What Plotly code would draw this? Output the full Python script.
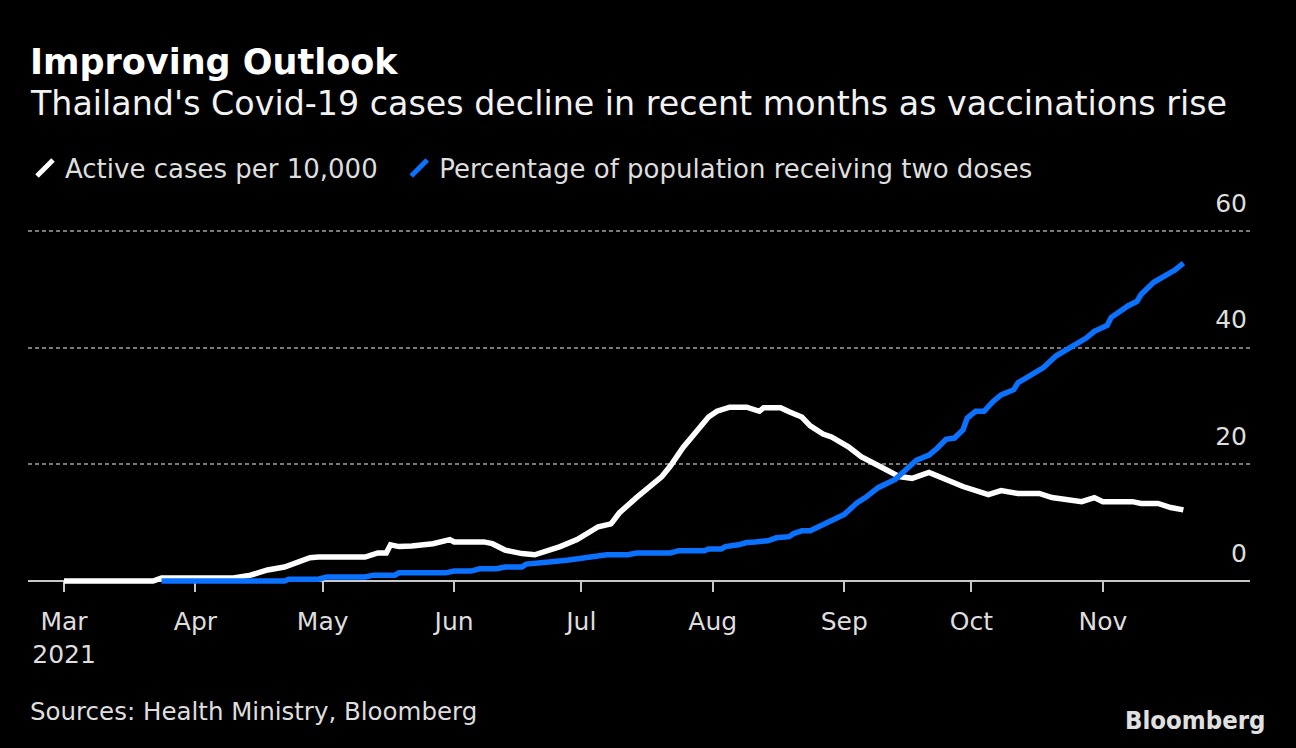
import plotly.graph_objects as go

# ---- data ----
active_dates = ["2021-03-01", "2021-03-22", "2021-03-24", "2021-04-10", "2021-04-14", "2021-04-18",
                "2021-04-22", "2021-04-25", "2021-04-28", "2021-04-30", "2021-05-11", "2021-05-14",
                "2021-05-16", "2021-05-17", "2021-05-19", "2021-05-22", "2021-05-27", "2021-05-31",
                "2021-06-01", "2021-06-08", "2021-06-10", "2021-06-13", "2021-06-17", "2021-06-20",
                "2021-06-23", "2021-06-26", "2021-06-30", "2021-07-03", "2021-07-05", "2021-07-08",
                "2021-07-10", "2021-07-14", "2021-07-17", "2021-07-20", "2021-07-22", "2021-07-25",
                "2021-07-28", "2021-07-31", "2021-08-02", "2021-08-05", "2021-08-09", "2021-08-12",
                "2021-08-13", "2021-08-17", "2021-08-19", "2021-08-22", "2021-08-24", "2021-08-27",
                "2021-08-29", "2021-09-02", "2021-09-05", "2021-09-08", "2021-09-09", "2021-09-14",
                "2021-09-17", "2021-09-21", "2021-09-29", "2021-10-05", "2021-10-08", "2021-10-12",
                "2021-10-17", "2021-10-20", "2021-10-27", "2021-10-30", "2021-11-01", "2021-11-08",
                "2021-11-10", "2021-11-14", "2021-11-17", "2021-11-20"]
active_cases = [0, 0, 0.5, 0.5, 1.0, 1.9,
                2.4, 3.3, 4.0, 4.1, 4.1, 4.8,
                4.8, 6.2, 5.9, 6.0, 6.4, 7.1,
                6.7, 6.7, 6.4, 5.3, 4.7, 4.5,
                5.2, 5.9, 7.1, 8.3, 9.3, 9.8,
                11.7, 14.3, 16.0, 17.9, 19.7, 22.9,
                25.5, 28.1, 29.1, 29.8, 29.8, 29.1,
                29.7, 29.7, 29.0, 28.1, 26.6, 25.2,
                24.7, 23.0, 21.3, 20.0, 19.8, 17.9,
                17.6, 18.6, 16.2, 14.8, 15.5, 15.0,
                15.0, 14.3, 13.6, 14.3, 13.6, 13.6,
                13.3, 13.3, 12.6, 12.2]

vax_dates = ["2021-03-24", "2021-04-22", "2021-04-23", "2021-04-30", "2021-05-02", "2021-05-11",
             "2021-05-13", "2021-05-18", "2021-05-19", "2021-05-30", "2021-06-01", "2021-06-05",
             "2021-06-07", "2021-06-11", "2021-06-13", "2021-06-17", "2021-06-18", "2021-06-23",
             "2021-06-24", "2021-06-28", "2021-07-02", "2021-07-05", "2021-07-07", "2021-07-12",
             "2021-07-14", "2021-07-22", "2021-07-24", "2021-07-30", "2021-07-31", "2021-08-03",
             "2021-08-04", "2021-08-07", "2021-08-09", "2021-08-11", "2021-08-14", "2021-08-16",
             "2021-08-19", "2021-08-20", "2021-08-22", "2021-08-24", "2021-08-26", "2021-08-29",
             "2021-09-01", "2021-09-04", "2021-09-06", "2021-09-09", "2021-09-12", "2021-09-13",
             "2021-09-18", "2021-09-21", "2021-09-23", "2021-09-25", "2021-09-27", "2021-09-29",
             "2021-09-30", "2021-10-02", "2021-10-04", "2021-10-06", "2021-10-08", "2021-10-11",
             "2021-10-12", "2021-10-15", "2021-10-18", "2021-10-21", "2021-10-25", "2021-10-28",
             "2021-10-30", "2021-11-02", "2021-11-03", "2021-11-07", "2021-11-09", "2021-11-10",
             "2021-11-13", "2021-11-16", "2021-11-18", "2021-11-20"]
vax_pct = [0, 0, 0.3, 0.3, 0.7, 0.7,
           1.0, 1.0, 1.4, 1.4, 1.7, 1.7,
           2.1, 2.1, 2.4, 2.4, 2.9, 3.1,
           3.3, 3.6, 4.0, 4.2, 4.5, 4.5,
           4.8, 4.8, 5.2, 5.2, 5.5, 5.5,
           5.9, 6.2, 6.6, 6.7, 6.9, 7.4,
           7.6, 8.1, 8.6, 8.6, 9.3, 10.3,
           11.4, 13.4, 14.3, 16.0, 17.2, 17.4,
           20.7, 21.6, 22.8, 24.3, 24.5, 25.9,
           27.9, 29.1, 29.1, 30.7, 31.9, 32.8,
           34.0, 35.2, 36.6, 38.6, 40.2, 41.6,
           42.8, 43.8, 45.2, 47.2, 47.9, 49.1,
           51.2, 52.4, 53.3, 54.5]

month_ticks = ["2021-03-01", "2021-04-01", "2021-05-01", "2021-06-01", "2021-07-01",
               "2021-08-01", "2021-09-01", "2021-10-01", "2021-11-01"]
month_labels = ["Mar<br>2021", "Apr", "May", "Jun", "Jul", "Aug", "Sep", "Oct", "Nov"]
y_ticks = [0, 20, 40, 60]

WHITE = "#ffffff"
BLUE = "#0a72ff"
TXT = "#dedede"
REG = "DejaVu Sans, sans-serif"
COND = "DejaVu Sans Condensed, DejaVu Sans, sans-serif"
NB = "\u00a0"

fig = go.Figure()
fig.add_trace(go.Scatter(x=active_dates, y=active_cases, mode="lines",
                         line=dict(color=WHITE, width=5.5), showlegend=False,
                         name="Active cases per 10,000"))
fig.add_trace(go.Scatter(x=vax_dates, y=vax_pct, mode="lines",
                         line=dict(color=BLUE, width=5.5), showlegend=False,
                         name="Percentage of population receiving two doses"))
# legend entries with slash icons
fig.add_trace(go.Scatter(x=[None], y=[None], mode="markers",
                         name="Active cases per 10,000" + NB * 2,
                         marker=dict(symbol="line-ne", size=20, color=WHITE,
                                     line=dict(color=WHITE, width=5))))
fig.add_trace(go.Scatter(x=[None], y=[None], mode="markers",
                         name="Percentage of population receiving two doses",
                         marker=dict(symbol="line-ne", size=20, color=BLUE,
                                     line=dict(color=BLUE, width=5))))

L, R, T, B = 28, 46, 170, 148
plot_w = 1296 - L - R
plot_h = 748 - T - B
px_per_unit = 350 / 60.0
y_top = (581 - T) / px_per_unit
y_bot = -((748 - B) - 581) / px_per_unit


def py(pix):
    """pixel row -> paper y coordinate"""
    return ((748 - B) - pix) / plot_h


def px(pix):
    """pixel column -> paper x coordinate"""
    return (pix - L) / plot_w


fig.update_layout(
    width=1296, height=748,
    paper_bgcolor="#000000", plot_bgcolor="#000000",
    margin=dict(l=L, r=R, t=T, b=B),
    font=dict(family=REG, color=TXT, size=26),
    showlegend=True,
    legend=dict(orientation="h", xref="paper", yref="paper",
                x=px(25), y=py(168), xanchor="left", yanchor="middle",
                bgcolor="rgba(0,0,0,0)", font=dict(family=REG, size=26, color=TXT),
                itemwidth=30, traceorder="normal"),
    xaxis=dict(type="date", range=["2021-02-20 12:00", "2021-12-05 17:00"],
               anchor="free", position=py(581),
               showline=True, linecolor="#c8c8c8", linewidth=2, layer="below traces",
               ticks="outside", ticklen=10, tickwidth=2, tickcolor="#c8c8c8",
               tickvals=month_ticks, ticktext=month_labels, ticklabelstandoff=8,
               tickfont=dict(family=REG, size=25, color=TXT),
               showgrid=False, zeroline=False, fixedrange=True),
    yaxis=dict(range=[y_bot, y_top], side="right", tickvals=y_ticks,
               ticklabelposition="inside", ticklabelshift=-28, ticklabelstandoff=0,
               tickfont=dict(family=REG, size=25, color=TXT),
               showgrid=True, gridcolor="#7a7a7a", gridwidth=2, griddash="4px,3px",
               zeroline=False, showline=False, ticks="", fixedrange=True),
    annotations=[
        dict(text="<b>Improving Outlook</b>", x=0, xref="paper", xanchor="left",
             y=py(62), yref="paper", yanchor="middle", showarrow=False,
             font=dict(family=REG, size=35, color="#ffffff")),
        dict(text="Thailand's Covid-19 cases decline in recent months as vaccinations rise",
             x=0, xref="paper", xanchor="left",
             y=py(103), yref="paper", yanchor="middle", showarrow=False,
             font=dict(family=REG, size=33.3, color="#f2f2f2")),
        dict(text="Sources: Health Ministry, Bloomberg", x=0, xref="paper", xanchor="left",
             y=py(711), yref="paper", yanchor="middle", showarrow=False,
             font=dict(family=REG, size=24.5, color=TXT)),
        dict(text="<b>Bloomberg</b>", x=px(1268), xref="paper", xanchor="right",
             y=py(720), yref="paper", yanchor="middle", showarrow=False,
             font=dict(family=COND, size=25.5, color="#e0e0e0")),
    ],
)

fig.write_html("out.html", config={"displayModeBar": False})

# remove the default page margin so the chart fills the window
with open("out.html", "r", encoding="utf-8") as f:
    html = f.read()
html = html.replace("<body>", '<body style="margin:0;padding:0;background:#000000;">', 1)
with open("out.html", "w", encoding="utf-8") as f:
    f.write(html)
